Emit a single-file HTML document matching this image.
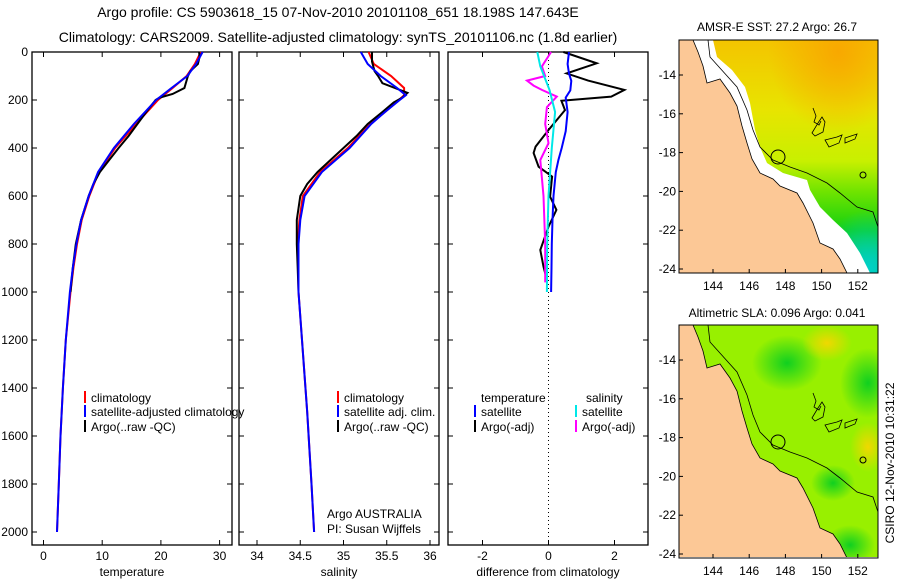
<!DOCTYPE html>
<html><head><meta charset="utf-8"><style>
body{margin:0;background:#fff;}
svg{display:block;font-family:"Liberation Sans",sans-serif;}
</style></head><body>
<svg id="c" width="900" height="580" viewBox="0 0 900 580">
<defs>
<linearGradient id="sst" x1="0" y1="0" x2="0" y2="1">
<stop offset="0" stop-color="#f4c400"/><stop offset="0.3" stop-color="#e8e400"/>
<stop offset="0.52" stop-color="#c8f000"/><stop offset="0.65" stop-color="#70e400"/>
<stop offset="0.82" stop-color="#10d010"/><stop offset="1" stop-color="#00c890"/>
</linearGradient>
<radialGradient id="teal" cx="0.95" cy="0.98" r="0.25"><stop offset="0" stop-color="#00d0c8"/><stop offset="1" stop-color="#00d0c8" stop-opacity="0"/></radialGradient>
<radialGradient id="org" cx="0.8" cy="0.05" r="0.35"><stop offset="0" stop-color="#f8a800"/><stop offset="1" stop-color="#f8a800" stop-opacity="0"/></radialGradient>
<radialGradient id="gb" r="0.5"><stop offset="0" stop-color="#10d020"/><stop offset="1" stop-color="#10d020" stop-opacity="0"/></radialGradient>
<radialGradient id="yb" r="0.5"><stop offset="0" stop-color="#f0d800"/><stop offset="1" stop-color="#f0d800" stop-opacity="0"/></radialGradient>
<clipPath id="m1"><rect x="679" y="40" width="199" height="233"/></clipPath>
<clipPath id="m2"><rect x="679" y="325" width="199" height="232"/></clipPath>
</defs>
<g id="g"></g>
</svg>
<script>
// ---- data ----
const depthT=[0,50,100,150,200,300,400,500,600,700,800,900,1000,1200,1400,1600,1800,2000];
const tClim=[26.8,25.8,24.4,22.0,19.5,15.8,12.2,9.4,7.8,6.5,5.7,5.1,4.6,3.8,3.3,2.9,2.6,2.3];
const tSat=[27.1,26.0,24.5,21.8,19.2,15.4,12.0,9.3,7.7,6.4,5.6,5.0,4.5,3.8,3.3,2.9,2.6,2.3];
const depthTA=[0,20,50,80,100,150,175,190,200,250,300,350,400,450,500,550,600,700,800,900,1000];
const tArgo=[26.5,26.6,26.3,25.0,24.6,24.0,22.0,19.8,19.1,17.5,16.0,14.5,12.8,11.2,9.6,8.5,7.7,6.4,5.5,5.0,4.6];
const depthS=[0,50,100,150,180,200,250,300,400,500,600,700,800,1000,1200,1500,1800,2000];
const sClim=[35.29,35.35,35.55,35.70,35.70,35.64,35.48,35.31,35.05,34.73,34.53,34.49,34.47,34.48,34.52,34.58,34.63,34.66];
const sSat=[35.20,35.28,35.43,35.62,35.72,35.65,35.48,35.32,35.07,34.75,34.55,34.50,34.48,34.48,34.52,34.58,34.63,34.66];
const depthSA=[0,40,80,100,130,170,190,210,250,300,350,400,450,500,550,600,700,800,900,1000];
const sArgo=[35.33,35.33,35.36,35.40,35.45,35.74,35.68,35.58,35.45,35.28,35.15,35.00,34.85,34.70,34.58,34.50,34.46,34.46,34.47,34.48];
const depthDTS=[0,50,90,120,160,190,250,330,400,450,500,600,700,800,900,1000];
const dTSat=[0.62,0.58,0.62,0.69,0.66,0.52,0.58,0.52,0.40,0.30,0.22,0.15,0.12,0.10,0.09,0.08];
const depthDTA=[0,47,89,119,158,186,203,242,325,394,421,478,519,603,658,728,825,894,950];
const dTArgo=[0.45,1.46,0.55,1.2,2.3,1.9,0.39,0.5,0.0,-0.39,-0.45,-0.3,0.11,0.05,0.24,0.0,-0.25,-0.15,-0.05];
const depthDSS=[0,60,158,250,400,600,800,1000];
const dSSat=[-0.34,-0.25,0.03,0.2,0.1,0.0,-0.04,-0.05];
const depthDSA=[0,60,100,119,140,158,186,230,300,380,450,600,800,960];
const dSArgo=[0.08,-0.2,-0.1,-0.65,-0.45,-0.2,0.25,-0.05,-0.1,0.0,-0.25,-0.15,-0.1,-0.1];
const depthTicks=[0,200,400,600,800,1000,1200,1400,1600,1800,2000];
const tTicks=[0,10,20,30];
const sTicks=[34,34.5,35,35.5,36];
const dTicks=[-2,0,2];
const latTicks=[-14,-16,-18,-20,-22,-24];
const lonTicks=[144,146,148,150,152];

const NS='http://www.w3.org/2000/svg';
const G=document.getElementById('g');
function mk(tag,at,parent){const e=document.createElementNS(NS,tag);for(const k in at)e.setAttribute(k,at[k]);(parent||G).appendChild(e);return e;}
function txt(x,y,s,size,anchor,name,extra){const e=mk('text',Object.assign({x:x,y:y,'font-size':size,'text-anchor':anchor||'middle',fill:'#000'},extra||{}));e.textContent=s;


return e;}
const yD=d=>52+d*0.24;
const xT=v=>43.5+v*5.87;
const xS=v=>257+(v-34)*86.5;
const xDf=v=>548.5+v*33;

// titles
txt(338,17,'Argo profile: CS 5903618_15 07-Nov-2010 20101108_651 18.198S 147.643E',14,'middle','title-line-1');
txt(338,42,'Climatology: CARS2009. Satellite-adjusted climatology: synTS_20101106.nc (1.8d earlier)',14,'middle','title-line-2');

function panel(x0,x1,name,xticks,xf,xlabel,showY){
  const r=mk('rect',{x:x0,y:52,width:x1-x0,height:493,fill:'none',stroke:'#000','stroke-width':1.3});
  
  
  depthTicks.forEach(d=>{mk('line',{x1:x0,x2:x0+5,y1:yD(d),y2:yD(d),stroke:'#000'});mk('line',{x1:x1-5,x2:x1,y1:yD(d),y2:yD(d),stroke:'#000'});
    if(showY){txt(x0-4,yD(d)+4,String(d),12,'end','y-tick-label');}});
  xticks.forEach(v=>{const x=xf(v);mk('line',{x1:x,x2:x,y1:52,y2:57,stroke:'#000'});mk('line',{x1:x,x2:x,y1:540,y2:545,stroke:'#000'});
    txt(x,560,String(v),12,'middle',name+'-x-tick-label');});
  txt((x0+x1)/2,576,xlabel,12,'middle',name+'-x-axis-title');
}
panel(32,232,'temperature-panel',tTicks,xT,'temperature',true);
panel(239,439,'salinity-panel',sTicks,xS,'salinity',false);
panel(448,648,'difference-panel',dTicks,xDf,'difference from climatology',false);
mk('line',{x1:xDf(0),x2:xDf(0),y1:52,y2:545,stroke:'#000','stroke-dasharray':'1,3'});

function line(depths,vals,xf,color,name,w){
  const pts=depths.map((d,i)=>xf(vals[i]).toFixed(1)+','+yD(d).toFixed(1)).join(' ');
  const p=mk('polyline',{points:pts,fill:'none',stroke:color,'stroke-width':w||2});
  
  
}
line(depthT,tClim,xT,'#ff0000','temp-climatology-line');
line(depthTA,tArgo,xT,'#000','temp-argo-line');
line(depthT,tSat,xT,'#0000ff','temp-satellite-line');
line(depthS,sClim,xS,'#ff0000','salinity-climatology-line');
line(depthSA,sArgo,xS,'#000','salinity-argo-line');
line(depthS,sSat,xS,'#0000ff','salinity-satellite-line');
line(depthDTA,dTArgo,xDf,'#000','diff-temp-argo-line');
line(depthDTS,dTSat,xDf,'#0000ff','diff-temp-satellite-line');
line(depthDSA,dSArgo,xDf,'#ff00ff','diff-salinity-argo-line');
line(depthDSS,dSSat,xDf,'#00e8e8','diff-salinity-satellite-line');

function legend(x,y,color,label){
  const m=mk('rect',{x:x,y:y-6,width:2,height:12,fill:color});
  
  
  txt(x+7,y+5,label,12,'start','legend-entry');
}
legend(84,397,'#ff0000','climatology');legend(84,411,'#0000ff','satellite-adjusted climatology');legend(84,426,'#000','Argo(..raw -QC)');
legend(337,397,'#ff0000','climatology');legend(337,411,'#0000ff','satellite adj. clim.');legend(337,426,'#000','Argo(..raw -QC)');
txt(481,402,'temperature',12,'start','legend-header-temperature');
txt(586,402,'salinity',12,'start','legend-header-salinity');
legend(474,411,'#0000ff','satellite');legend(474,426,'#000','Argo(-adj)');
legend(575,411,'#00e8e8','satellite');legend(575,426,'#ff00ff','Argo(-adj)');
txt(327,518,'Argo AUSTRALIA',12,'start','argo-agency-label');
txt(327,533,'PI: Susan Wijffels',12,'start','pi-label');

// maps
const coast=[[693,0],[698,12],[703,26],[707,43],[720,39],[730,53],[737,66],[742,86],[747,103],[752,119],[760,133],[773,139],[780,146],[797,153],[803,163],[813,183],[820,203],[833,209],[840,219],[847,233]];
const white1=[[713,0],[717,17],[732,30],[745,47],[750,63],[755,90],[760,107],[767,123],[783,133],[807,140],[810,150],[820,167],[833,180],[847,193],[860,213],[870,233]];
const iso=[[708,0],[710,17],[737,47],[747,70],[753,90],[760,107],[773,120],[790,127],[807,133],[827,143],[840,153],[857,167],[873,172],[878,187]];
function map(oy,clip,name,sst){
  const g=mk('g',{'clip-path':'url(#'+clip+')'});
  
  
  if(sst){
    mk('rect',{x:679,y:oy,width:199,height:233,fill:'url(#sst)'},g);
    mk('rect',{x:679,y:oy,width:199,height:233,fill:'url(#org)'},g);
    mk('rect',{x:679,y:oy,width:199,height:233,fill:'url(#teal)'},g);
    const wp=white1.map(p=>p[0]+','+(p[1]+oy)).join(' ');
    mk('polygon',{points:'679,'+oy+' '+wp+' 870,'+(oy+233)+' 679,'+(oy+233),fill:'#fff'},g);
  } else {
    mk('rect',{x:679,y:oy,width:199,height:233,fill:'#98f000'},g);
    [[787,38,35,28,'gb'],[868,58,28,35,'gb'],[833,158,22,18,'gb'],[827,18,25,18,'yb'],[868,122,18,25,'yb'],[850,220,25,20,'gb']].forEach(b=>
      mk('ellipse',{cx:b[0],cy:b[1]+oy,rx:b[2],ry:b[3],fill:'url(#'+b[4]+')'},g));
  }
  const cp=coast.map(p=>p[0]+','+(p[1]+oy)).join(' ');
  mk('polygon',{points:'679,'+oy+' '+cp+' 847,'+(oy+233)+' 679,'+(oy+233),fill:'#fcc896',stroke:'#000','stroke-width':0.8},g);
  mk('polyline',{points:iso.map(p=>p[0]+','+(p[1]+oy)).join(' '),fill:'none',stroke:'#000','stroke-width':0.8},g);
  mk('path',{d:`M813 ${oy+68} l3 8 l-2 6 l5 3 l2 -4 M818 ${oy+83} l4 -6 l3 5 l-2 10 l-8 4 l-3 -3 z M825 ${oy+100} l12 -3 l5 -2 l-3 8 l-10 4 z M845 ${oy+98} l12 -4 l-2 5 l-10 4 z`,fill:'none',stroke:'#000','stroke-width':0.8},g);
  const c=mk('circle',{cx:778,cy:oy+117,r:7,fill:'none',stroke:'#000','stroke-width':1},g);
  
  
  mk('circle',{cx:863,cy:oy+135,r:3,fill:'none',stroke:'#000'},g);
  mk('rect',{x:679,y:oy,width:199,height:233,fill:'none',stroke:'#000','stroke-width':1});
  const latY=l=>oy+35+(-14-l)*19.4;
  latTicks.forEach(l=>{mk('line',{x1:679,x2:683,y1:latY(l),y2:latY(l),stroke:'#000'});txt(676,latY(l)+4,String(l),12,'end',name+'-lat-label');});
  lonTicks.forEach(l=>{const x=713+(l-144)*18.1;mk('line',{x1:x,x2:x,y1:oy+229,y2:oy+233,stroke:'#000'});txt(x,oy+250,String(l),12,'middle',name+'-lon-label');});
}
map(40,'m1','sst-map',true);
map(325,'m2','sla-map',false);
txt(777,31,'AMSR-E SST: 27.2 Argo: 26.7',12,'middle','sst-map-title');
txt(777,317,'Altimetric SLA: 0.096 Argo: 0.041',12,'middle','sla-map-title');
txt(0,0,'CSIRO 12-Nov-2010 10:31:22',12,'middle','timestamp-label',{transform:'translate(894,463) rotate(-90)'});
</script>
</body></html>
